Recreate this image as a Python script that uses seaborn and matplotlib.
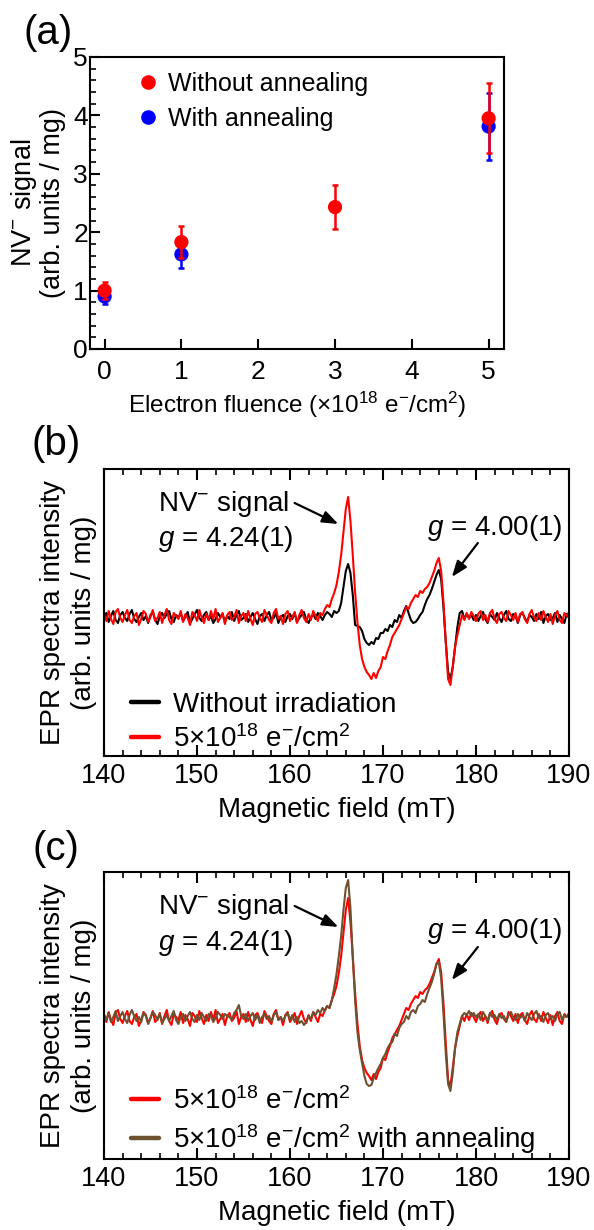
import numpy as np
import matplotlib
matplotlib.use("Agg")
import matplotlib.pyplot as plt
import seaborn as sns
from matplotlib.ticker import MultipleLocator
from matplotlib.lines import Line2D

# ---------------- panel (a): NV- signal vs electron fluence ----------------
fluence_without = [0, 1, 3, 5]
signal_without = [1.00, 1.83, 2.43, 3.95]
error_without = [0.15, 0.27, 0.37, 0.60]

fluence_with = [0, 1, 5]
signal_with = [0.90, 1.62, 3.81]
error_with = [0.13, 0.24, 0.58]

fluence_ticks = [0, 1, 2, 3, 4, 5]
signal_ticks = [0, 1, 2, 3, 4, 5]

# ---------------- EPR spectra (arb. units), 0.25 mT steps from 140 to 190 mT ----------------
# one row of 20 values = 5 mT
epr_5e18 = [
    3, -4, 6, -2, -7, 5, 8, -1, -5, 2, 7, -3, -6, 1, 4, -8, -2, 6, 3, -5,
    0, 7, -4, -1, 5, -6, 2, 8, -3, -7, 4, 1, -2, 6, -5, 3, -1, -8, 5, 2,
    -4, 7, 0, -6, 3, -3, 6, -2, 8, -5, -1, 4, -7, 2, 5, -3, 0, 7, -6, 1,
    4, -4, 6, -2, -8, 3, 5, -1, -5, 7, 2, -3, -6, 4, 8, -2, 1, -7, 3, 6,
    -4, 0, 5, -6, 2, 7, -1, -5, 3, -3, 6, 1, -4, 4, 2, 8, 12, 10, 18, 24,
    32, 45, 62, 85, 108, 120, 96, 62, 25, -5, -28, -42, -50, -55, -58, -62, -56, -61, -54, -50,
    -40, -42, -34, -28, -20, -16, -12, -8, -2, 4, 10, 8, 14, 18, 22, 20, 26, 24, 28, 30,
    34, 40, 46, 54, 59, 46, 15, -25, -62, -68, -50, -30, -18, -8, 2, -3, 4, -2, 5, 1,
    -4, 3, 6, -3, 2, -5, 4, 7, -2, -6, 3, 5, -1, -4, 6, 2, -3, 4, -5, 3,
    5, -2, -6, 3, 7, -1, -4, 4, -3, 6, 0, -5, 3, -7, 2, 6, -3, -6, 4, 1,
    5,
]

epr_unirradiated = [
    -2, 4, -5, 1, 6, -3, -6, 2, 5, -1, -4, 3, 7, -2, -5, 0, 4, -3, 1, -6,
    2, 5, -3, -7, 1, 4, -1, 3, 6, -2, -5, 2, -1, 4, -4, 0, 5, -6, -2, 3,
    7, -1, -4, 2, 5, -3, 1, -6, -2, 4, 0, 3, -5, 1, -2, 5, -4, 2, 6, -3,
    -1, 3, -5, 0, 4, -2, -7, 1, 3, -4, 2, 5, -3, -1, 4, -6, 0, 2, -5, 1,
    3, -2, 4, -5, -1, 2, 5, -3, -6, 0, 3, -2, 4, 1, -3, 2, 5, 3, 0, 6,
    4, 6, 14, 30, 46, 53, 44, 22, -8, -9, -10, -14, -22, -26, -28, -25, -27, -21, -22, -16,
    -16, -12, -14, -8, -10, -3, -5, 2, -1, 6, 11, 4, -3, -6, -5, -2, 2, 5, 12, 18,
    22, 28, 35, 42, 47, 38, 10, -25, -55, -62, -50, -30, -10, 4, 6, -2, 3, -1, 2, -3,
    2, -4, 1, 5, -2, -6, 3, 0, -3, 4, -1, -5, 2, 6, -2, -4, 3, 1, -6, 2,
    4, -1, -5, 2, 0, -4, 3, -2, 5, -6, 1, 3, -3, -1, 4, -5, 2, -2, -6, 3,
    -1,
]

epr_5e18_annealed = [
    4, -2, 5, -4, 1, 7, -3, 2, 6, -1, -5, 3, 8, 2, -3, 1, -4, 5, 2, -6,
    0, 6, 3, -2, 4, -5, -1, 3, -3, 2, 7, -2, -6, 1, 4, -3, 2, 6, -1, -4,
    3, -2, 5, 1, -3, 4, 2, -4, 0, 6, 3, -1, 4, 2, 1, -2, 5, 8, 13, 2,
    -1, 4, -3, 2, 5, -2, 3, -5, 1, 4, -1, 2, -4, 3, 6, -2, 1, -3, 2, 5,
    -2, 3, -4, 1, -5, -3, -7, -4, 2, -1, 6, 3, 8, 5, 10, 7, 12, 10, 18, 30,
    44, 62, 82, 108, 130, 138, 110, 60, 18, -14, -32, -45, -58, -66, -68, -67, -60, -55, -50, -46,
    -40, -36, -30, -26, -24, -16, -18, -10, -6, -4, 2, -1, 6, 8, 5, 12, 14, 18, 16, 24,
    30, 36, 44, 54, 56, 40, 5, -35, -66, -73, -55, -30, -14, -6, 2, 5, 3, 7, 2, 5,
    1, 4, -2, 6, 2, -3, 5, 1, 3, -2, 4, 0, 2, -4, 3, 6, 1, -2, 4, 0,
    3, -3, 5, 1, -2, 4, 7, 0, 2, -4, 3, 5, -1, 2, -3, 4, 6, -2, 3, 1,
    4,
]

field_ticks = [140, 150, 160, 170, 180, 190]
field_mT = np.linspace(140, 190, len(epr_5e18))

RED = "#ff0000"
BLUE = "#0000ff"
BROWN = "#6e5230"

sns.set_theme(style="ticks")
plt.rcParams["font.family"] = ["Liberation Sans", "DejaVu Sans"]
plt.rcParams["mathtext.fontset"] = "custom"
plt.rcParams["mathtext.rm"] = "Liberation Sans"
plt.rcParams["mathtext.it"] = "Liberation Sans:italic"
plt.rcParams["mathtext.bf"] = "Liberation Sans:bold"
plt.rcParams["axes.linewidth"] = 1.5
plt.rcParams["axes.edgecolor"] = "black"
plt.rcParams["text.color"] = "black"
plt.rcParams["axes.labelcolor"] = "black"
plt.rcParams["xtick.color"] = "black"
plt.rcParams["ytick.color"] = "black"
plt.rcParams["xtick.labelcolor"] = "black"
plt.rcParams["ytick.labelcolor"] = "black"

W, H = 594, 1230
fig = plt.figure(figsize=(W / 100, H / 100), dpi=100)


def box(left, top, right, bottom):
    return [left / W, 1 - bottom / H, (right - left) / W, (bottom - top) / H]


ax_a = fig.add_axes(box(90, 57, 504, 349))
ax_b = fig.add_axes(box(104, 469, 569, 756))
ax_c = fig.add_axes(box(104, 872, 569, 1159))

# ---------------- (a) ----------------
ax_a.errorbar(fluence_with, signal_with, yerr=error_with, fmt="none",
              ecolor=BLUE, elinewidth=1.8, capsize=2.2, capthick=1.8, zorder=2)
sns.scatterplot(x=fluence_with, y=signal_with, ax=ax_a, color=BLUE, s=105,
                edgecolor="none", zorder=3, legend=False)
ax_a.errorbar(fluence_without, signal_without, yerr=error_without, fmt="none",
              ecolor=RED, elinewidth=1.8, capsize=2.2, capthick=1.8, zorder=4)
sns.scatterplot(x=fluence_without, y=signal_without, ax=ax_a, color=RED, s=105,
                edgecolor="none", zorder=5, legend=False)

ax_a.set_xlim(-0.19, 5.2)
ax_a.set_ylim(0, 5)
ax_a.set_xticks(fluence_ticks)
ax_a.set_yticks(signal_ticks)
ax_a.yaxis.set_minor_locator(MultipleLocator(0.2))
ax_a.tick_params(axis="both", which="major", direction="in", length=7, width=1.5,
                 labelsize=19, top=False, right=False)
ax_a.tick_params(axis="y", which="minor", direction="in", length=4, width=1.2,
                 right=False)
ax_a.tick_params(axis="x", which="major", pad=8)
ax_a.tick_params(axis="y", which="major", pad=1.5)
ax_a.set_xlabel("Electron fluence (×10$^{18}$ e$^{-}$/cm$^{2}$)", fontsize=17.5,
                labelpad=4)
ax_a.set_ylabel("NV$^{-}$ signal\n(arb. units / mg)", fontsize=19.5,
                linespacing=1.05)
ax_a.yaxis.set_label_coords(-0.058, 0.5)

legend_a = [
    Line2D([], [], ls="", marker="o", color=RED, markersize=9.5, label="Without annealing"),
    Line2D([], [], ls="", marker="o", color=BLUE, markersize=9.5, label="With annealing"),
]
ax_a.legend(handles=legend_a, loc="upper left", bbox_to_anchor=(0.116, 0.95),
            frameon=False, fontsize=18, handlelength=0.8, handletextpad=0.4,
            labelspacing=0.45, borderpad=0, borderaxespad=0)


# ---------------- (b) and (c) spectra ----------------
def spectrum_axes(ax, ylim):
    ax.set_xlim(140, 190)
    ax.set_ylim(*ylim)
    ax.set_xticks(field_ticks)
    ax.xaxis.set_minor_locator(MultipleLocator(2))
    ax.set_yticks([])
    ax.tick_params(axis="x", which="major", direction="in", length=8, width=1.5,
                   labelsize=19.5, top=True, bottom=True, pad=5)
    ax.tick_params(axis="x", which="minor", direction="in", length=4, width=1.2,
                   top=True, bottom=True)
    ax.set_xlabel("Magnetic field (mT)", fontsize=20, labelpad=6)
    ax.set_ylabel("EPR spectra intensity\n(arb. units / mg)", fontsize=20,
                  linespacing=1.25)
    ax.yaxis.set_label_coords(-0.016, 0.5)


def annotate_peaks(ax, nv_y, g1_y, g2_y, arrow1, arrow2):
    ax.text(145.8, nv_y, "NV$^{-}$ signal", fontsize=20, ha="left", va="baseline")
    ax.text(145.8, g1_y, "$g$ = 4.24(1)", fontsize=20, ha="left", va="baseline")
    ax.text(174.7, g2_y, "$g$ = 4.00(1)", fontsize=20, ha="left", va="baseline")
    style = dict(arrowstyle="-|>,head_length=0.8,head_width=0.3", color="black",
                 lw=1.6, shrinkA=0, shrinkB=0)
    ax.annotate("", xy=arrow1[1], xytext=arrow1[0], arrowprops=style)
    ax.annotate("", xy=arrow2[1], xytext=arrow2[0], arrowprops=style)


def spectrum_legend(ax, anchor_y):
    leg = ax.legend(loc="lower left", bbox_to_anchor=(0.058, anchor_y), frameon=False,
                    fontsize=20, handlelength=1.0, handletextpad=0.5,
                    labelspacing=0.25, borderpad=0, borderaxespad=0)
    for line in leg.get_lines():
        line.set_linewidth(3.2)


# (b)
sns.lineplot(x=field_mT, y=epr_unirradiated, ax=ax_b, color="black", linewidth=1.5,
             estimator=None, sort=False, label="Without irradiation")
sns.lineplot(x=field_mT, y=epr_5e18, ax=ax_b, color=RED, linewidth=1.5,
             estimator=None, sort=False, label="5×10$^{18}$ e$^{-}$/cm$^{2}$")
spectrum_axes(ax_b, (-139, 148))
annotate_peaks(ax_b, 106, 71, 82,
               ((160.5, 114), (165.2, 93)), ((180.2, 74), (177.4, 40)))
spectrum_legend(ax_b, 0.012)

# (c)
sns.lineplot(x=field_mT, y=epr_5e18, ax=ax_c, color=RED, linewidth=1.5,
             estimator=None, sort=False, label="5×10$^{18}$ e$^{-}$/cm$^{2}$")
sns.lineplot(x=field_mT, y=epr_5e18_annealed, ax=ax_c, color=BROWN, linewidth=1.5,
             estimator=None, sort=False,
             label="5×10$^{18}$ e$^{-}$/cm$^{2}$ with annealing")
spectrum_axes(ax_c, (-141, 146))
annotate_peaks(ax_c, 104, 68, 80,
               ((160.5, 112), (165.2, 91)), ((180.2, 71), (177.4, 38)))
spectrum_legend(ax_c, 0.012)

# panel letters
for letter, (x, y) in zip(["(a)", "(b)", "(c)"], [(48, 33), (56, 444), (56, 849)]):
    fig.text(x / W, 1 - y / H, letter, fontsize=29, ha="center", va="center")

fig.savefig("out.png", dpi=100)
